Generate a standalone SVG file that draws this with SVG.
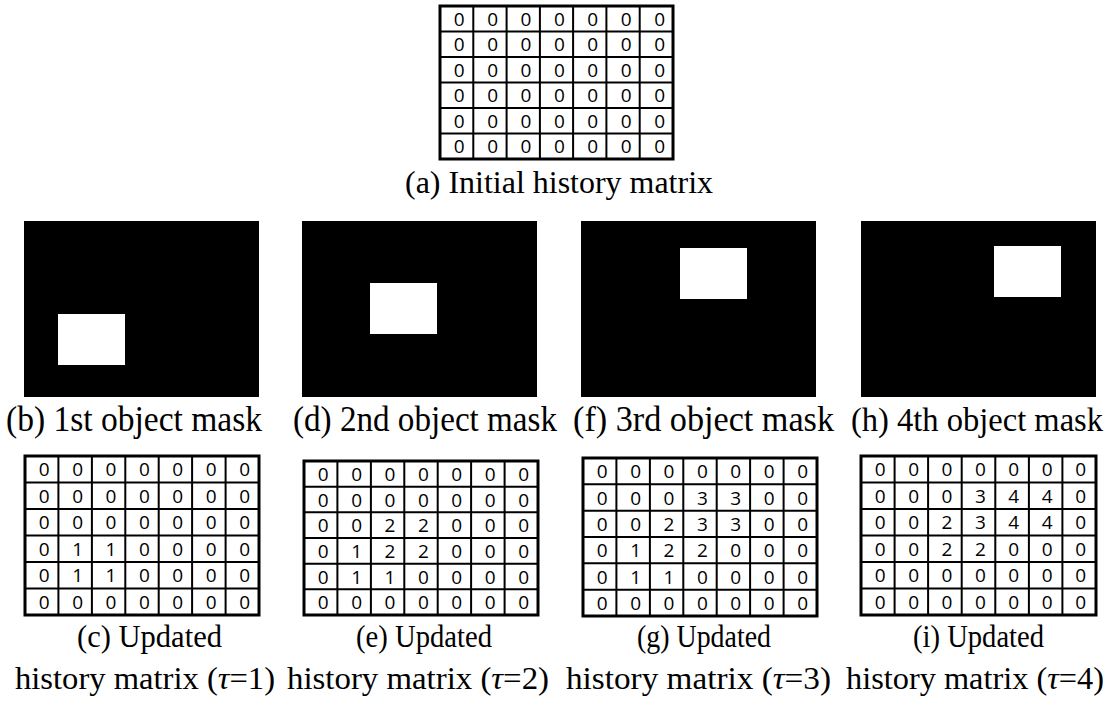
<svg xmlns="http://www.w3.org/2000/svg" width="1116" height="709" viewBox="0 0 1116 709">
  <style>
    .frame { fill: none; stroke: #000; stroke-width: 3; }
    .grid { fill: none; stroke: #000; stroke-width: 2; }
    .num { font-family: "Open Sans", "Noto Sans", sans-serif; font-size: 19px; fill: #000; text-anchor: middle; }
    .cap { font-family: 'Liberation Serif', 'Times New Roman', serif; fill: #000; }
    .mask { fill: #000; }
    .obj { fill: #fff; }
  </style>
  <rect width="1116" height="709" fill="#fff"/>

  <!-- (a) initial history matrix -->
  <g id="matrix-a" transform="translate(440,6)">
    <path class="grid" d="M33.3 0V153M66.6 0V153M99.9 0V153M133.1 0V153M166.4 0V153M199.7 0V153M0 25.5H233M0 51H233M0 76.5H233M0 102H233M0 127.5H233"/>
    <rect class="frame" x="0" y="0" width="233" height="153"/>
    <text class="num" x="19.2 52.6 86 119.4 152.8 186.2 219.6" y="19.75">0000000</text>
    <text class="num" x="19.2 52.6 86 119.4 152.8 186.2 219.6" y="45.25">0000000</text>
    <text class="num" x="19.2 52.6 86 119.4 152.8 186.2 219.6" y="70.75">0000000</text>
    <text class="num" x="19.2 52.6 86 119.4 152.8 186.2 219.6" y="96.25">0000000</text>
    <text class="num" x="19.2 52.6 86 119.4 152.8 186.2 219.6" y="121.75">0000000</text>
    <text class="num" x="19.2 52.6 86 119.4 152.8 186.2 219.6" y="147.25">0000000</text>
  </g>
  <text id="caption-a" class="cap" x="405" y="193" font-size="31" textLength="308" lengthAdjust="spacingAndGlyphs">(a) Initial history matrix</text>

  <!-- object masks -->
  <g id="mask-b">
    <rect class="mask" x="24" y="221" width="235" height="176"/>
    <rect class="obj" x="58" y="314" width="67" height="51"/>
    <text class="cap" x="6" y="431" font-size="35" textLength="256" lengthAdjust="spacingAndGlyphs">(b) 1st object mask</text>
  </g>
  <g id="mask-d">
    <rect class="mask" x="302" y="221" width="235" height="176"/>
    <rect class="obj" x="370" y="283" width="67" height="51"/>
    <text class="cap" x="293" y="431" font-size="35" textLength="264" lengthAdjust="spacingAndGlyphs">(d) 2nd object mask</text>
  </g>
  <g id="mask-f">
    <rect class="mask" x="581" y="221" width="235" height="176"/>
    <rect class="obj" x="680" y="248" width="67" height="51"/>
    <text class="cap" x="573" y="431" font-size="35" textLength="261" lengthAdjust="spacingAndGlyphs">(f) 3rd object mask</text>
  </g>
  <g id="mask-h">
    <rect class="mask" x="861" y="221" width="235" height="176"/>
    <rect class="obj" x="994" y="246" width="67" height="51"/>
    <text class="cap" x="851" y="431" font-size="34" textLength="252" lengthAdjust="spacingAndGlyphs">(h) 4th object mask</text>
  </g>

  <!-- (c) updated history matrix, tau = 1 -->
  <g id="matrix-c">
    <g transform="translate(25,456)">
      <path class="grid" d="M33.4 0V159M66.9 0V159M100.3 0V159M133.7 0V159M167.1 0V159M200.6 0V159M0 26.5H234M0 53H234M0 79.5H234M0 106H234M0 132.5H234"/>
      <rect class="frame" x="0" y="0" width="234" height="159"/>
      <text class="num" x="19.2 52.6 86 119.4 152.8 186.2 219.6" y="20.25">0000000</text>
      <text class="num" x="19.2 52.6 86 119.4 152.8 186.2 219.6" y="46.75">0000000</text>
      <text class="num" x="19.2 52.6 86 119.4 152.8 186.2 219.6" y="73.25">0000000</text>
      <text class="num" x="19.2 52.6 86 119.4 152.8 186.2 219.6" y="99.75">0110000</text>
      <text class="num" x="19.2 52.6 86 119.4 152.8 186.2 219.6" y="126.25">0110000</text>
      <text class="num" x="19.2 52.6 86 119.4 152.8 186.2 219.6" y="152.75">0000000</text>
    </g>
    <text class="cap" x="77" y="647" font-size="31" textLength="145" lengthAdjust="spacingAndGlyphs">(c) Updated</text>
    <text class="cap" x="15" y="689" font-size="32" textLength="260" lengthAdjust="spacingAndGlyphs">history matrix (<tspan font-style="italic">τ</tspan>=1)</text>
  </g>

  <!-- (e) updated history matrix, tau = 2 -->
  <g id="matrix-e">
    <g transform="translate(304,461)">
      <path class="grid" d="M33.4 0V154M66.9 0V154M100.3 0V154M133.7 0V154M167.1 0V154M200.6 0V154M0 25.7H234M0 51.3H234M0 77H234M0 102.7H234M0 128.3H234"/>
      <rect class="frame" x="0" y="0" width="234" height="154"/>
      <text class="num" x="19.2 52.6 86 119.4 152.8 186.2 219.6" y="19.8">0000000</text>
      <text class="num" x="19.2 52.6 86 119.4 152.8 186.2 219.6" y="45.5">0000000</text>
      <text class="num" x="19.2 52.6 86 119.4 152.8 186.2 219.6" y="71.2">0022000</text>
      <text class="num" x="19.2 52.6 86 119.4 152.8 186.2 219.6" y="96.8">0122000</text>
      <text class="num" x="19.2 52.6 86 119.4 152.8 186.2 219.6" y="122.5">0110000</text>
      <text class="num" x="19.2 52.6 86 119.4 152.8 186.2 219.6" y="148.2">0000000</text>
    </g>
    <text class="cap" x="356" y="647" font-size="31" textLength="136" lengthAdjust="spacingAndGlyphs">(e) Updated</text>
    <text class="cap" x="287" y="689" font-size="32" textLength="262" lengthAdjust="spacingAndGlyphs">history matrix (<tspan font-style="italic">τ</tspan>=2)</text>
  </g>

  <!-- (g) updated history matrix, tau = 3 -->
  <g id="matrix-g">
    <g transform="translate(583,458)">
      <path class="grid" d="M33.4 0V158M66.9 0V158M100.3 0V158M133.7 0V158M167.1 0V158M200.6 0V158M0 26.3H234M0 52.7H234M0 79H234M0 105.3H234M0 131.7H234"/>
      <rect class="frame" x="0" y="0" width="234" height="158"/>
      <text class="num" x="19.2 52.6 86 119.4 152.8 186.2 219.6" y="20.2">0000000</text>
      <text class="num" x="19.2 52.6 86 119.4 152.8 186.2 219.6" y="46.5">0003300</text>
      <text class="num" x="19.2 52.6 86 119.4 152.8 186.2 219.6" y="72.8">0023300</text>
      <text class="num" x="19.2 52.6 86 119.4 152.8 186.2 219.6" y="99.2">0122000</text>
      <text class="num" x="19.2 52.6 86 119.4 152.8 186.2 219.6" y="125.5">0110000</text>
      <text class="num" x="19.2 52.6 86 119.4 152.8 186.2 219.6" y="151.8">0000000</text>
    </g>
    <text class="cap" x="637" y="647" font-size="31" textLength="134" lengthAdjust="spacingAndGlyphs">(g) Updated</text>
    <text class="cap" x="566" y="689" font-size="32" textLength="265" lengthAdjust="spacingAndGlyphs">history matrix (<tspan font-style="italic">τ</tspan>=3)</text>
  </g>

  <!-- (i) updated history matrix, tau = 4 -->
  <g id="matrix-i">
    <g transform="translate(861,456)">
      <path class="grid" d="M33.6 0V159M67.1 0V159M100.7 0V159M134.3 0V159M167.9 0V159M201.4 0V159M0 26.5H235M0 53H235M0 79.5H235M0 106H235M0 132.5H235"/>
      <rect class="frame" x="0" y="0" width="235" height="159"/>
      <text class="num" x="19.2 52.6 86 119.4 152.8 186.2 219.6" y="20.25">0000000</text>
      <text class="num" x="19.2 52.6 86 119.4 152.8 186.2 219.6" y="46.75">0003440</text>
      <text class="num" x="19.2 52.6 86 119.4 152.8 186.2 219.6" y="73.25">0023440</text>
      <text class="num" x="19.2 52.6 86 119.4 152.8 186.2 219.6" y="99.75">0022000</text>
      <text class="num" x="19.2 52.6 86 119.4 152.8 186.2 219.6" y="126.25">0000000</text>
      <text class="num" x="19.2 52.6 86 119.4 152.8 186.2 219.6" y="152.75">0000000</text>
    </g>
    <text class="cap" x="913" y="647" font-size="31" textLength="131" lengthAdjust="spacingAndGlyphs">(i) Updated</text>
    <text class="cap" x="846" y="689" font-size="32" textLength="258" lengthAdjust="spacingAndGlyphs">history matrix (<tspan font-style="italic">τ</tspan>=4)</text>
  </g>
</svg>
